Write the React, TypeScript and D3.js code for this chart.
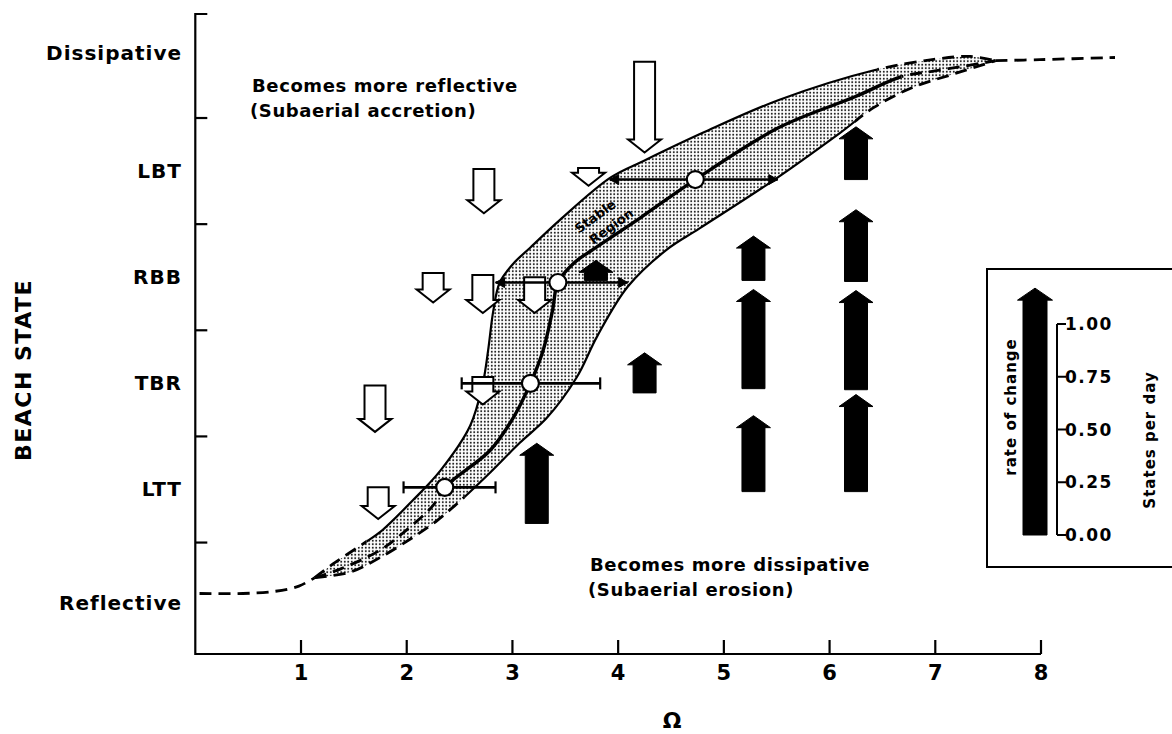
import React from "react";
import * as d3 from "d3";

type Pt = [number, number];

// x axis: dimensionless fall velocity
const omegaTicks = [1, 2, 3, 4, 5, 6, 7, 8];

// y axis: beach state
const stateNames = ["Reflective", "LTT", "TBR", "RBB", "LBT", "Dissipative"];
const stateLabelLevel = [-0.07, 1, 2, 3, 4, 5.11];
const stateTicks = [0.5, 1.5, 2.5, 3.5, 4.5];

// equilibrium curve and the edges of the stable region, [omega, state]
const reflectiveTail: Pt[] = [[0.04, 0.02], [0.45, 0.02], [0.75, 0.04], [0.98, 0.09], [1.13, 0.17]];
const upperEdge: Pt[] = [
  [1.13, 0.17], [1.32, 0.31], [1.62, 0.51], [1.75, 0.6], [2.06, 0.9], [2.32, 1.18],
  [2.6, 1.6], [2.72, 2.0], [2.77, 2.31], [2.82, 2.69], [2.88, 2.95], [3.01, 3.13],
  [3.17, 3.28], [3.45, 3.54], [3.93, 3.94], [4.25, 4.1], [4.8, 4.36], [5.52, 4.67],
  [6.42, 4.95], [6.97, 5.05], [7.33, 5.08], [7.57, 5.04],
];
const centralCurve: Pt[] = [
  [1.13, 0.17], [1.37, 0.25], [1.75, 0.43], [2.0, 0.62], [2.25, 0.85], [2.36, 1.02],
  [2.79, 1.37], [3.01, 1.68], [3.17, 2.0], [3.29, 2.31], [3.38, 2.69], [3.43, 2.95],
  [3.59, 3.14], [3.76, 3.26], [4.21, 3.56], [4.73, 3.92], [5.52, 4.41], [6.24, 4.7],
  [6.68, 4.89], [6.97, 4.94], [7.28, 4.99], [7.57, 5.04],
];
const lowerEdge: Pt[] = [
  [1.13, 0.17], [1.46, 0.22], [1.75, 0.36], [2.06, 0.55], [2.29, 0.71], [2.48, 0.87],
  [2.58, 0.96], [2.79, 1.16], [3.07, 1.44], [3.33, 1.68], [3.61, 2.06], [3.8, 2.44],
  [4.09, 2.91], [4.46, 3.26], [4.77, 3.46], [5.48, 3.92], [6.1, 4.36], [6.42, 4.6],
  [6.79, 4.79], [7.19, 4.92], [7.57, 5.04],
];
const dissipativeTail: Pt[] = [[7.57, 5.04], [7.99, 5.05], [8.7, 5.07]];
// omega range where each line is drawn solid
const upperSolid = [1.62, 6.45];
const centralSolid = [2.36, 6.68];
const lowerSolid = [2.55, 6.24];

// mean omega for each state with its spread
const meanOmega = [2.36, 3.17, 3.43, 4.73];
const meanState = [1.02, 2.0, 2.95, 3.92];
const barLow = [1.97, 2.52, 2.84, 3.92];
const barHigh = [2.84, 3.83, 4.09, 5.51];
const barArrowEnds = [false, false, true, true];

// observed rates of change, states per day
const accretionOmega = [4.25, 3.72, 2.73, 2.25, 2.72, 3.21, 2.72, 1.7, 1.73];
const accretionFrom = [5.03, 4.03, 4.02, 3.04, 3.02, 3.0, 2.06, 1.98, 1.02];
const accretionRate = [0.43, 0.085, 0.21, 0.14, 0.18, 0.17, 0.13, 0.22, 0.15];

const erosionOmega = [3.23, 4.25, 3.79, 5.28, 5.28, 5.28, 6.25, 6.25, 6.25, 6.25];
const erosionFrom = [0.68, 1.91, 2.97, 2.97, 1.95, 0.98, 3.92, 2.96, 1.94, 0.98];
const erosionRate = [0.38, 0.19, 0.095, 0.21, 0.47, 0.36, 0.25, 0.34, 0.47, 0.46];

const legendTicks = [0, 0.25, 0.5, 0.75, 1];
const legendArrowRate = 1.17;

const FONT = "'DejaVu Sans', sans-serif";

function arrowPath(cx: number, from: number, len: number, dir: number, shaftW: number, headW: number, headH: number) {
  // dir = -1 points up (screen), +1 points down
  const tip = from + dir * len;
  const neck = tip - dir * Math.min(headH, len);
  const p = d3.path();
  p.moveTo(cx - shaftW / 2, from);
  p.lineTo(cx - shaftW / 2, neck);
  p.lineTo(cx - headW / 2, neck);
  p.lineTo(cx, tip);
  p.lineTo(cx + headW / 2, neck);
  p.lineTo(cx + shaftW / 2, neck);
  p.lineTo(cx + shaftW / 2, from);
  p.closePath();
  return p.toString();
}

export default function App() {
  const x = d3.scaleLinear().domain([0, 8]).range([195.3, 1041]);
  const y = d3.scaleLinear().domain([-0.55, 5.48]).range([654, 14]);
  const ratePx = d3.scaleLinear().domain([0, 1]).range([0, 211]);
  const legendY = d3.scaleLinear().domain([0, 1]).range([535, 324]);

  const line = d3
    .line<Pt>()
    .x((d) => x(d[0]))
    .y((d) => y(d[1]))
    .curve(d3.curveCatmullRom.alpha(0.5));

  const upperPath = line(upperEdge) ?? "";
  const lowerRev = (line([...lowerEdge].reverse()) ?? "").replace(/^M/, "L");
  const bandPath = upperPath + lowerRev + "Z";

  const curves = [
    { id: "up", pts: upperEdge, solid: upperSolid, w: 2.2 },
    { id: "mid", pts: centralCurve, solid: centralSolid, w: 3.4 },
    { id: "low", pts: lowerEdge, solid: lowerSolid, w: 2.2 },
  ];

  const dash = "12 7";

  return (
    <div style={{ position: "absolute", left: 0, top: 0, width: 1172, height: 734, background: "#fff" }}>
      <svg width={1172} height={734} style={{ display: "block" }} fontFamily={FONT}>
        <defs>
          <pattern id="stipple" width={3.5} height={3.5} patternUnits="userSpaceOnUse">
            <rect width={3.5} height={3.5} fill="#fff" />
            <circle cx={1.75} cy={1.75} r={1} fill="#1a1a1a" />
          </pattern>
          {curves.map((c) => (
            <React.Fragment key={c.id}>
              <clipPath id={`solid-${c.id}`}>
                <rect x={x(c.solid[0])} y={0} width={x(c.solid[1]) - x(c.solid[0])} height={734} />
              </clipPath>
              <clipPath id={`dash-${c.id}`}>
                <rect x={0} y={0} width={x(c.solid[0])} height={734} />
                <rect x={x(c.solid[1])} y={0} width={1172 - x(c.solid[1])} height={734} />
              </clipPath>
            </React.Fragment>
          ))}
        </defs>

        {/* axes */}
        <g stroke="#000" strokeWidth={2.2} fill="none">
          <path d={`M${x(0) + 12},${y(5.48)}H${x(0)}V${y(-0.55)}H${x(8)}`} />
          {stateTicks.map((t) => (
            <line key={t} x1={x(0)} x2={x(0) + 12} y1={y(t)} y2={y(t)} />
          ))}
          {omegaTicks.map((t) => (
            <line key={t} x1={x(t)} x2={x(t)} y1={y(-0.55)} y2={y(-0.55) - 14} />
          ))}
        </g>
        <g fontWeight="bold" fontSize={20} letterSpacing={1} textAnchor="end">
          {stateNames.map((n, i) => (
            <text key={n} x={182} y={y(stateLabelLevel[i]) + 7}>
              {n}
            </text>
          ))}
        </g>
        <g fontWeight="bold" fontSize={21} textAnchor="middle">
          {omegaTicks.map((t) => (
            <text key={t} x={x(t)} y={680}>
              {t}
            </text>
          ))}
        </g>
        <text x={672} y={728} fontSize={22} fontWeight="bold" textAnchor="middle">
          Ω
        </text>
        <text
          transform="translate(31,370) rotate(-90)"
          fontSize={22}
          fontWeight="bold"
          letterSpacing={1.5}
          textAnchor="middle"
        >
          BEACH STATE
        </text>

        {/* stable region */}
        <path d={bandPath} fill="url(#stipple)" stroke="none" />
        {curves.map((c) => (
          <g key={c.id} fill="none" stroke="#000">
            <path d={line(c.pts) ?? ""} strokeWidth={c.w} clipPath={`url(#solid-${c.id})`} />
            <path
              d={line(c.pts) ?? ""}
              strokeWidth={2.8}
              strokeDasharray={dash}
              clipPath={`url(#dash-${c.id})`}
            />
          </g>
        ))}
        <path d={line(reflectiveTail) ?? ""} fill="none" stroke="#000" strokeWidth={2.8} strokeDasharray={dash} />
        <path d={line(dissipativeTail) ?? ""} fill="none" stroke="#000" strokeWidth={2.8} strokeDasharray={dash} />

        <g fontSize={13} fontWeight="bold" textAnchor="middle">
          <text transform="translate(598,220) rotate(-36)">Stable</text>
          <text transform="translate(614,230) rotate(-36)">Region</text>
        </g>

        {/* accretion (open) arrows */}
        <g fill="#fff" stroke="#000" strokeWidth={2} strokeLinejoin="miter">
          {accretionOmega.map((o, i) => (
            <path key={i} d={arrowPath(x(o), y(accretionFrom[i]), ratePx(accretionRate[i]), 1, 21, 33, 13)} />
          ))}
        </g>
        {/* erosion (filled) arrows */}
        <g fill="#000" stroke="#000" strokeWidth={1}>
          {erosionOmega.map((o, i) => (
            <path key={i} d={arrowPath(x(o), y(erosionFrom[i]), ratePx(erosionRate[i]), -1, 23, 34, 12)} />
          ))}
        </g>

        {/* means and spread */}
        <g stroke="#000" strokeWidth={2.6}>
          {meanOmega.map((o, i) => {
            const yy = y(meanState[i]);
            const x0 = x(barLow[i]);
            const x1 = x(barHigh[i]);
            return (
              <g key={i}>
                <line x1={x0} x2={x1} y1={yy} y2={yy} />
                {barArrowEnds[i] ? (
                  <>
                    <path d={`M${x0},${yy}l9,-5v10z`} fill="#000" strokeWidth={1} />
                    <path d={`M${x1},${yy}l-9,-5v10z`} fill="#000" strokeWidth={1} />
                  </>
                ) : (
                  <>
                    <line x1={x0} x2={x0} y1={yy - 6} y2={yy + 6} strokeWidth={2.2} />
                    <line x1={x1} x2={x1} y1={yy - 6} y2={yy + 6} strokeWidth={2.2} />
                  </>
                )}
                <circle cx={x(o)} cy={yy} r={8.5} fill="#fff" strokeWidth={2.2} />
              </g>
            );
          })}
        </g>

        {/* annotations */}
        <g fontSize={18} fontWeight="bold" letterSpacing={0.6}>
          <text x={252} y={92}>Becomes more reflective</text>
          <text x={250} y={117}>(Subaerial accretion)</text>
          <text x={590} y={571}>Becomes more dissipative</text>
          <text x={588} y={596}>(Subaerial erosion)</text>
        </g>

        {/* legend */}
        <rect x={987} y={269} width={200} height={298} fill="#fff" stroke="#000" strokeWidth={2} />
        <path
          d={arrowPath(1035, legendY(0), legendY(0) - legendY(legendArrowRate), -1, 24, 35, 12)}
          fill="#000"
          stroke="#000"
        />
        <g stroke="#000" strokeWidth={2} fill="none">
          <line x1={1057} x2={1057} y1={legendY(0)} y2={legendY(1)} />
          {legendTicks.map((t) => (
            <line key={t} x1={1057} x2={1066} y1={legendY(t)} y2={legendY(t)} />
          ))}
        </g>
        <g fontSize={17} fontWeight="bold" letterSpacing={1.5}>
          {legendTicks.map((t) => (
            <text key={t} x={1065} y={legendY(t) + 6}>
              {d3.format(".2f")(t)}
            </text>
          ))}
        </g>
        <text
          transform="translate(1016,407) rotate(-90)"
          fontSize={15}
          fontWeight="bold"
          letterSpacing={1}
          textAnchor="middle"
        >
          rate of change
        </text>
        <text
          transform="translate(1155,440) rotate(-90)"
          fontSize={15}
          fontWeight="bold"
          letterSpacing={1}
          textAnchor="middle"
        >
          States per day
        </text>
      </svg>
    </div>
  );
}
